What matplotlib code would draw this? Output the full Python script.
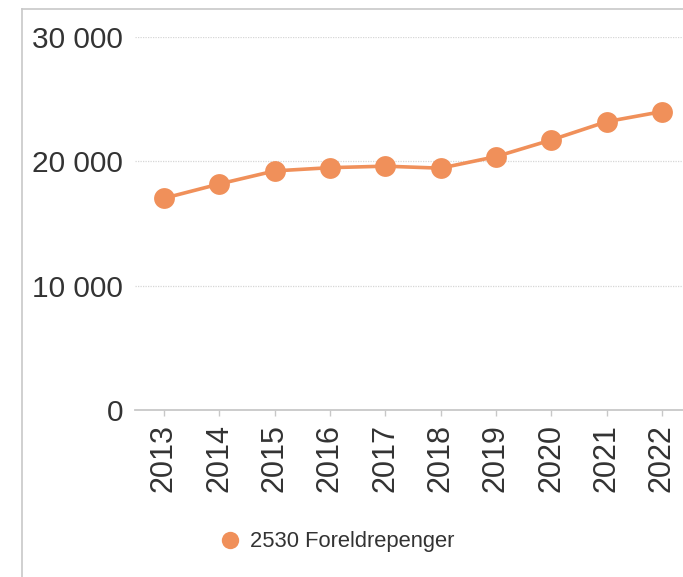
import matplotlib.pyplot as plt
from matplotlib.lines import Line2D

plt.rcParams['font.family'] = ['Liberation Sans', 'DejaVu Sans']

years = [2013, 2014, 2015, 2016, 2017, 2018, 2019, 2020, 2021, 2022]
values = [17030, 18180, 19230, 19490, 19610, 19450, 20380, 21720, 23190, 24000]
series_name = '2530 Foreldrepenger'
yticks = [0, 10000, 20000, 30000]
ytick_labels = ['0', '10 000', '20 000', '30 000']

col = '#F0905A'
txt = '#333333'
W, H = 683, 577

fig = plt.figure(figsize=(W / 100, H / 100), dpi=100)
ax = fig.add_axes([135 / W, 1 - 410 / H, 1 - 135 / W, (410 - 37) / H])

ax.plot(years, values, color=col, lw=2.6, marker='o', ms=15,
        markeredgewidth=0, clip_on=False, zorder=3)

ax.set_xlim(2012.476, 2022.38)
ax.set_ylim(0, 30000)
ax.set_yticks(yticks)
ax.set_yticklabels(ytick_labels)
ax.set_xticks(years)
ax.set_xticklabels([str(y) for y in years], rotation=90)

for s in ['top', 'right', 'left']:
    ax.spines[s].set_visible(False)
ax.spines['bottom'].set_color('#c8c8c8')
ax.spines['bottom'].set_linewidth(1.3)

for v in yticks[1:]:
    ax.axhline(v, color='#d6d6d6', lw=0.9, ls=(0, (1, 1)), zorder=1)

ax.tick_params(axis='y', length=0, pad=8.5, labelsize=21.5, labelcolor=txt)
ax.tick_params(axis='x', length=4, width=1, color='#c8c8c8', pad=6,
               labelsize=22, labelcolor=txt)

# outer frame lines (top and left)
fig.add_artist(Line2D([22 / W, 1], [1 - 9 / H, 1 - 9 / H], color='#c8c8c8', lw=1.2))
fig.add_artist(Line2D([22 / W, 22 / W], [0, 1 - 9 / H], color='#c8c8c8', lw=1.2))

# legend
handle = Line2D([], [], color=col, marker='o', ls='none', ms=12.5, markeredgewidth=0)
fig.legend([handle], [series_name], loc='center', bbox_to_anchor=(337 / W, 1 - 542 / H),
           frameon=False, fontsize=15.8, labelcolor=txt, handletextpad=0.4,
           handlelength=1.0)

fig.savefig('out.png', dpi=100)
